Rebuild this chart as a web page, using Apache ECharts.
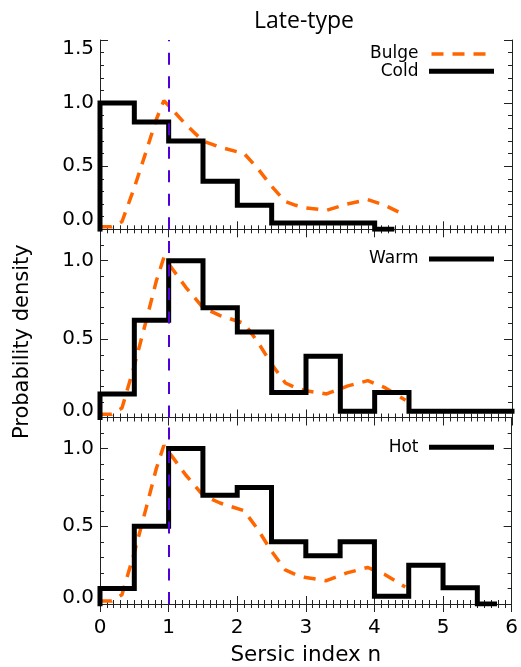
<!DOCTYPE html>
<html><head><meta charset="utf-8">
<script src="https://cdn.jsdelivr.net/npm/echarts@6/dist/echarts.min.js"></script>
<style>html,body{margin:0;padding:0;background:#fff}#c{width:521px;height:667px}</style>
</head><body><div id="c"></div>
<script>
// ---- data ----
const binEdges = [0, 0.5, 1, 1.5, 2, 2.5, 3, 3.5, 4, 4.5, 5, 5.5, 6];
const coldValues = [1.0, 0.85, 0.70, 0.38, 0.19, 0.05, 0.05, 0.05, 0];
const coldEnd = 4.25;
const warmValues = [0.15, 0.62, 1.0, 0.70, 0.545, 0.16, 0.39, 0.04, 0.16, 0.04, 0.04, 0.04];
const warmEnd = 6.0;
const hotValues = [0.10, 0.50, 1.0, 0.70, 0.75, 0.40, 0.31, 0.40, 0.05, 0.25, 0.105, 0];
const hotEnd = 5.75;
const bulgeN = [0, 0.17, 0.32, 0.5, 0.68, 0.82, 0.93, 1.05, 1.25, 1.5, 1.75, 2.1, 2.3, 2.5, 2.7, 2.85, 3.0, 3.3, 3.6, 3.9, 4.15, 4.45];
const bulgeP = [0.02, 0.02, 0.06, 0.33, 0.63, 0.87, 1.02, 0.95, 0.83, 0.70, 0.65, 0.60, 0.48, 0.34, 0.22, 0.19, 0.17, 0.15, 0.20, 0.235, 0.19, 0.11];
const refN = 1;
const xTicks = [0, 1, 2, 3, 4, 5, 6];
const yLabels = [0, 0.5, 1.0, 1.5];
const panelYMax = [1.5, 1.2, 1.2];
const panelNames = ['Cold', 'Warm', 'Hot'];

// ---- build ----
function stepData(values, end) {
  const d = [[binEdges[0], 0]];
  values.forEach((v, i) => d.push([binEdges[i], v]));
  d.push([end, values[values.length - 1]]);
  return d;
}
const stepSets = [stepData(coldValues, coldEnd), stepData(warmValues, warmEnd), stepData(hotValues, hotEnd)];
const bulgeData = bulgeN.map((n, i) => [n, bulgeP[i]]);

const FONT = 'DejaVu Sans';
const AXC = '#222';
const grids = [
  { left: 100, right: 9, top: 40, height: 189.3 },
  { left: 100, right: 9, top: 229.3, height: 188.2 },
  { left: 100, right: 9, top: 417.5, height: 188.8 }
];
const xAxes = [], yAxes = [], series = [];
grids.forEach((g, gi) => {
  const isLast = gi === 2;
  const baseX = {
    gridIndex: gi, type: 'value', min: xTicks[0], max: xTicks[xTicks.length - 1], interval: 1,
    splitLine: { show: false },
    axisLine: { show: true, lineStyle: { color: AXC, width: 1 } },
    axisTick: { show: true, inside: true, length: 8, lineStyle: { color: AXC } },
    minorTick: { show: true, splitNumber: 10, length: 4, lineStyle: { color: AXC } }
  };
  xAxes.push(Object.assign({}, baseX, {
    position: 'bottom',
    axisLabel: { show: isLast, fontFamily: FONT, fontSize: 20, color: '#000', margin: 14 },
    name: isLast ? 'Sersic index n' : '', nameLocation: 'middle', nameGap: 40,
    nameTextStyle: { fontFamily: FONT, fontSize: 21.5, color: '#000' }
  }));
  xAxes.push(Object.assign({}, baseX, { position: 'top', axisLabel: { show: false } }));
  const ymax = panelYMax[gi];
  const loPad = gi === 0 ? 20 : 13;
  const majorY = (pos, labels) => ({
    gridIndex: gi, type: 'value', min: 0, max: ymax, interval: 0.5, position: pos,
    splitLine: { show: false },
    axisLine: { show: true, lineStyle: { color: AXC, width: 1 } },
    axisTick: { show: true, inside: true, length: 8, lineStyle: { color: AXC } },
    axisLabel: {
      show: labels, fontFamily: FONT, fontSize: 20, color: '#000', margin: 6,
      showMaxLabel: gi === 0,
      formatter: v => {
        const s = v.toFixed(1);
        if (v === 0) return '{lo|' + s + '}';
        if (v === 1.5) return '{hi|' + s + '}';
        return '{n|' + s + '}';
      },
      rich: {
        lo: { fontFamily: FONT, fontSize: 20, color: '#000', padding: [0, 0, loPad, 0] },
        hi: { fontFamily: FONT, fontSize: 20, color: '#000', padding: [18, 0, 0, 0] },
        n: { fontFamily: FONT, fontSize: 20, color: '#000' }
      }
    }
  });
  const minorY = pos => ({
    gridIndex: gi, type: 'value', min: 0, max: ymax, interval: 0.1, position: pos,
    splitLine: { show: false }, axisLine: { show: false },
    axisTick: { show: true, inside: true, length: 4, lineStyle: { color: AXC } },
    axisLabel: { show: false }
  });
  yAxes.push(majorY('left', true), minorY('left'), majorY('right', false), minorY('right'));
  const xi = gi * 2, yi = gi * 4;
  series.push({
    name: 'Bulge', type: 'line', xAxisIndex: xi, yAxisIndex: yi, data: bulgeData,
    symbol: 'none', z: 2, animation: false,
    lineStyle: { color: '#ff6600', width: 3.5, type: [12, 9] }, itemStyle: { color: '#ff6600' }
  });
  series.push({
    name: panelNames[gi], type: 'line', xAxisIndex: xi, yAxisIndex: yi, data: stepSets[gi],
    step: 'end', symbol: 'none', z: 3, animation: false,
    lineStyle: { color: '#000', width: 5, join: 'miter', cap: 'square' }, itemStyle: { color: '#000' }
  });
  series.push({
    name: 'ref' + gi, type: 'line', xAxisIndex: xi, yAxisIndex: yi, data: [], z: 4, animation: false,
    markLine: {
      silent: true, symbol: ['none', 'none'], label: { show: false }, animation: false,
      lineStyle: { color: '#5000d8', width: 2, type: [12, 11.5] },
      data: [{ xAxis: refN }]
    }
  });
});

const legendBase = {
  orient: 'vertical', align: 'right', right: 27, itemWidth: 60, itemHeight: 19, itemGap: 0.3,
  padding: 0, selectedMode: false,
  itemStyle: { color: 'rgba(0,0,0,0)', borderWidth: 0, opacity: 0 },
  lineStyle: { width: 'inherit', type: 'inherit', color: 'inherit' },
  textStyle: { fontFamily: FONT, fontSize: 17, color: '#000', padding: [0, 8, 0, 0] }
};

const chart = echarts.init(document.getElementById('c'), null, { renderer: 'canvas' });
chart.setOption({
  backgroundColor: '#fff',
  animation: false,
  title: {
    text: 'Late-type', left: 299, textAlign: 'center', top: 5,
    textStyle: { fontFamily: 'Open Sans', fontSize: 23, fontWeight: 'normal', color: '#000' }
  },
  legend: [
    Object.assign({}, legendBase, { data: ['Bulge', 'Cold'], top: 45.5 }),
    Object.assign({}, legendBase, { data: ['Warm'], top: 250.5 }),
    Object.assign({}, legendBase, { data: ['Hot'], top: 438.8 })
  ],
  grid: grids,
  xAxis: xAxes,
  yAxis: yAxes,
  series: series,
  graphic: [{
    type: 'text', x: 23, y: 341.7, rotation: Math.PI / 2,
    style: { text: 'Probability density', font: '21px "DejaVu Sans"', fill: '#000',
      align: 'center', verticalAlign: 'middle', textAlign: 'center', textVerticalAlign: 'middle' }
  }]
});
</script></body></html>
